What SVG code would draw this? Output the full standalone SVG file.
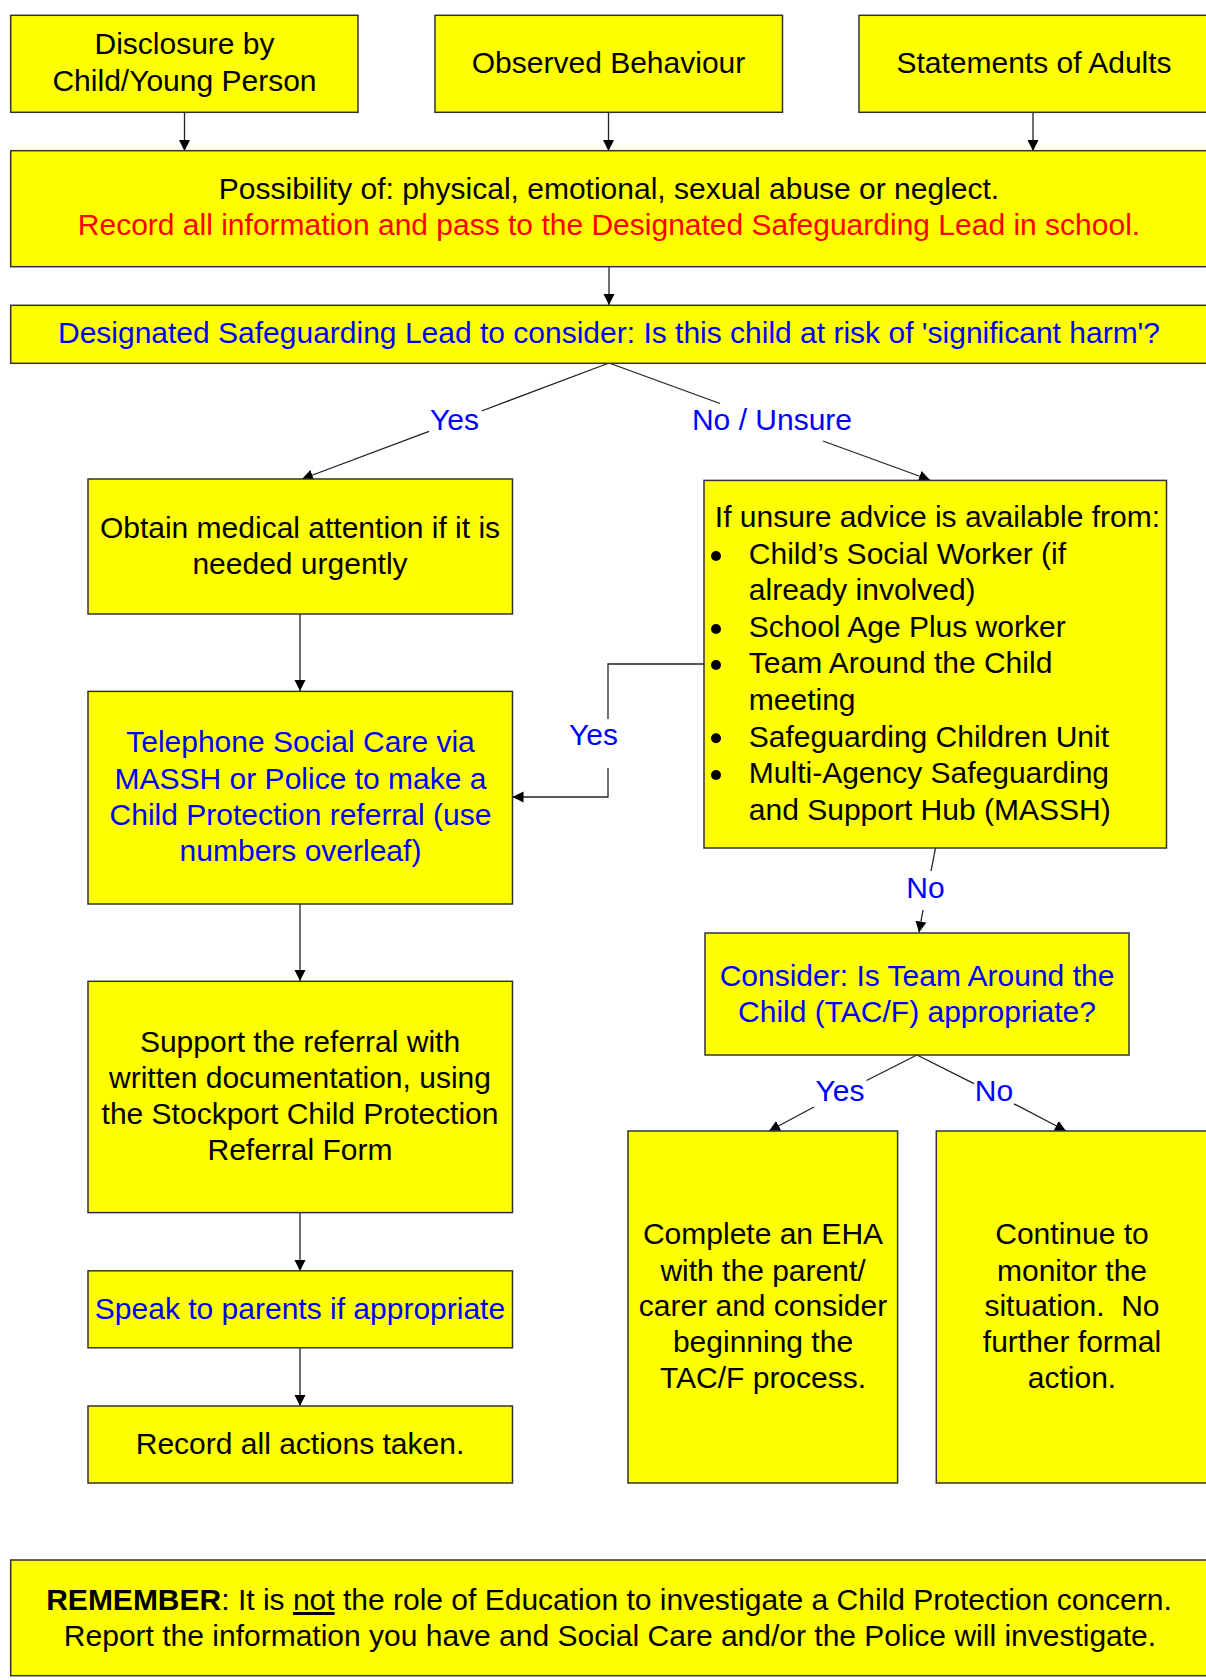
<svg xmlns="http://www.w3.org/2000/svg" width="1206" height="1680" viewBox="0 0 1206 1680">
<defs>
<marker id="ah" markerUnits="userSpaceOnUse" markerWidth="12" markerHeight="12" refX="11" refY="5.5" orient="auto">
<path d="M0,0 L11,5.5 L0,11 z" fill="#000"/>
</marker>
<style>
.box{fill:#FFFF00;stroke:#333;stroke-width:1.5}
.t{font-family:"Liberation Sans",Arial,sans-serif;font-size:30px;fill:#000}
.c{text-anchor:middle}
.blue{fill:#0000FF}
.red{fill:#FF0000}
.ln{fill:none;stroke:#222;stroke-width:1.3}
.arr{fill:none;stroke:#222;stroke-width:1.3;marker-end:url(#ah)}
</style>
</defs>
<rect width="1206" height="1680" fill="#fff"/>

<g id="connectors">
<line class="arr" x1="184.5" y1="112" x2="184.5" y2="151"/>
<line class="arr" x1="608.5" y1="112" x2="608.5" y2="151"/>
<line class="arr" x1="1033" y1="112" x2="1033" y2="151"/>
<line class="arr" x1="609" y1="267" x2="609" y2="305"/>
<line class="ln" x1="609" y1="363" x2="481.6" y2="411"/>
<line class="arr" x1="429" y1="431.4" x2="302" y2="479"/>
<text class="t c blue" x="454.5" y="429.6">Yes</text>
<line class="ln" x1="609" y1="363" x2="720" y2="403.5"/>
<line class="arr" x1="823" y1="441" x2="930" y2="480"/>
<text class="t c blue" x="772" y="429.6">No / Unsure</text>
<line class="arr" x1="300" y1="614" x2="300" y2="691"/>
<polyline class="ln" points="704,664 608,664 608,719"/>
<polyline class="arr" points="608,768 608,797 512.5,797"/>
<text class="t c blue" x="593.5" y="745">Yes</text>
<line class="arr" x1="300" y1="904" x2="300" y2="981"/>
<line class="arr" x1="300" y1="1212.5" x2="300" y2="1271"/>
<line class="arr" x1="300" y1="1348" x2="300" y2="1406"/>
<line class="ln" x1="935.5" y1="848" x2="931" y2="871"/>
<line class="arr" x1="923" y1="910" x2="919" y2="932.5"/>
<text class="t c blue" x="925.5" y="897.5">No</text>
<line class="ln" x1="917" y1="1055" x2="866.5" y2="1080.5"/>
<line class="arr" x1="814" y1="1107" x2="769" y2="1131"/>
<text class="t c blue" x="840" y="1101">Yes</text>
<line class="ln" x1="917" y1="1055" x2="974" y2="1083.7"/>
<line class="arr" x1="1014" y1="1103.8" x2="1066" y2="1131"/>
<text class="t c blue" x="994" y="1101">No</text>
</g>

<g id="disclosure">
<rect class="box" x="10.7" y="15.3" width="347.3" height="97"/>
<text class="t c" x="184.5" y="54.3">Disclosure by</text>
<text class="t c" x="184.5" y="90.7">Child/Young Person</text>
</g>
<g id="observed">
<rect class="box" x="435" y="15.3" width="347.5" height="97"/>
<text class="t c" x="608.5" y="72.7">Observed Behaviour</text>
</g>
<g id="statements">
<rect class="box" x="859" y="15.3" width="350" height="97"/>
<text class="t c" x="1034" y="72.7">Statements of Adults</text>
</g>
<g id="possibility">
<rect class="box" x="10.7" y="150.7" width="1197.3" height="116"/>
<text class="t c" x="609" y="199.3">Possibility of: physical, emotional, sexual abuse or neglect.</text>
<text class="t c red" x="609" y="235">Record all information and pass to the Designated Safeguarding Lead in school.</text>
</g>
<g id="dsl">
<rect class="box" x="10.7" y="305.3" width="1197.3" height="58"/>
<text class="t c blue" x="609" y="342.7">Designated Safeguarding Lead to consider: Is this child at risk of 'significant harm'?</text>
</g>
<g id="medical">
<rect class="box" x="88" y="479" width="424.5" height="135"/>
<text class="t c" x="300" y="537.5">Obtain medical attention if it is</text>
<text class="t c" x="300" y="573.6">needed urgently</text>
</g>
<g id="advice">
<rect class="box" x="704" y="480.4" width="462.5" height="367.6"/>
<text class="t" x="714.8" y="527">If unsure advice is available from:</text>
<circle cx="716" cy="556" r="5"/>
<text class="t" x="748.8" y="564.3">Child’s Social Worker (if</text>
<text class="t" x="748.8" y="600.4">already involved)</text>
<circle cx="716" cy="629" r="5"/>
<text class="t" x="748.8" y="636.8">School Age Plus worker</text>
<circle cx="716" cy="665" r="5"/>
<text class="t" x="748.8" y="673">Team Around the Child</text>
<text class="t" x="748.8" y="710">meeting</text>
<circle cx="716" cy="738.3" r="5"/>
<text class="t" x="748.8" y="746.8">Safeguarding Children Unit</text>
<circle cx="716" cy="775" r="5"/>
<text class="t" x="748.8" y="783">Multi-Agency Safeguarding</text>
<text class="t" x="748.8" y="819.6">and Support Hub (MASSH)</text>
</g>
<g id="telephone">
<rect class="box" x="88" y="691.4" width="424.5" height="212.6"/>
<text class="t c blue" x="300.5" y="752">Telephone Social Care via</text>
<text class="t c blue" x="300.5" y="788.6">MASSH or Police to make a</text>
<text class="t c blue" x="300.5" y="825">Child Protection referral (use</text>
<text class="t c blue" x="300.5" y="860.7">numbers overleaf)</text>
</g>
<g id="tac">
<rect class="box" x="705" y="933" width="424" height="122"/>
<text class="t c blue" x="917" y="986">Consider: Is Team Around the</text>
<text class="t c blue" x="917" y="1021.7">Child (TAC/F) appropriate?</text>
</g>
<g id="support">
<rect class="box" x="88" y="981.3" width="424.5" height="231.3"/>
<text class="t c" x="300" y="1052">Support the referral with</text>
<text class="t c" x="300" y="1087.7">written documentation, using</text>
<text class="t c" x="300" y="1124">the Stockport Child Protection</text>
<text class="t c" x="300" y="1160">Referral Form</text>
</g>
<g id="eha">
<rect class="box" x="628" y="1131" width="269.6" height="352"/>
<text class="t c" x="763" y="1244.4">Complete an EHA</text>
<text class="t c" x="763" y="1280.8">with the parent/</text>
<text class="t c" x="763" y="1316.4">carer and consider</text>
<text class="t c" x="763" y="1351.6">beginning the</text>
<text class="t c" x="763" y="1388">TAC/F process.</text>
</g>
<g id="monitor">
<rect class="box" x="936.3" y="1131" width="272" height="352"/>
<text class="t c" x="1072" y="1244.4">Continue to</text>
<text class="t c" x="1072" y="1280.8">monitor the</text>
<text class="t c" x="1072" y="1316.4" xml:space="preserve">situation.  No</text>
<text class="t c" x="1072" y="1351.6">further formal</text>
<text class="t c" x="1072" y="1388">action.</text>
</g>
<g id="speak">
<rect class="box" x="88" y="1270.8" width="424.5" height="77"/>
<text class="t c blue" x="300" y="1319">Speak to parents if appropriate</text>
</g>
<g id="record">
<rect class="box" x="88" y="1406" width="424.5" height="77"/>
<text class="t c" x="300" y="1453.5">Record all actions taken.</text>
</g>
<g id="remember">
<rect class="box" x="10.7" y="1560" width="1197.3" height="115.7"/>
<text class="t c" x="609" y="1610"><tspan font-weight="bold">REMEMBER</tspan>: It is <tspan style="text-decoration:underline">not</tspan> the role of Education to investigate a Child Protection concern.</text>
<text class="t c" x="610" y="1646">Report the information you have and Social Care and/or the Police will investigate.</text>
</g>
</svg>
